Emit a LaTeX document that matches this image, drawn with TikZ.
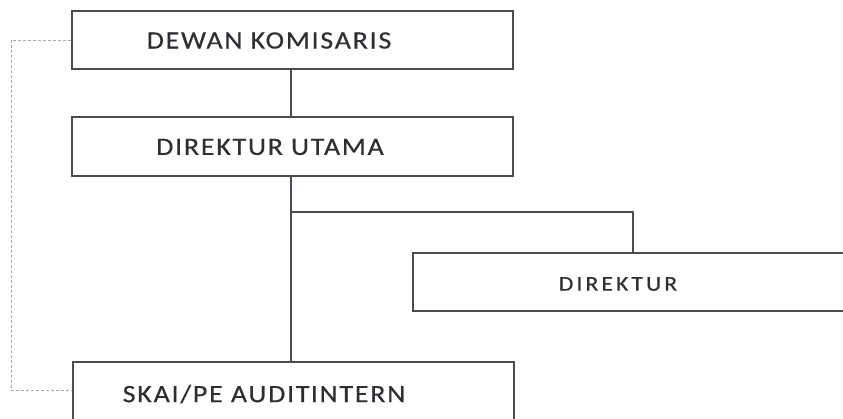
\documentclass[tikz,border=0pt]{standalone}
\usepackage{fontspec}
\setmainfont{Carlito}
\definecolor{linec}{HTML}{4A4B55}
\definecolor{textc}{HTML}{2E2E34}
\definecolor{dotc}{HTML}{A8A8B0}
\begin{document}
\begin{tikzpicture}[x=1pt,y=-1pt,
  box/.style={draw=linec, line width=1.4pt, inner sep=0pt, fill=white},
  conn/.style={draw=linec, line width=1.4pt},
  dotline/.style={draw=dotc, line width=0.7pt, densely dashed},
  lbl/.style={text=textc, inner sep=0pt, font=\fontsize{25}{28}\selectfont\addfontfeature{FakeStretch=1.12,LetterSpace=7,FakeBold=0.4}},
  lblsmall/.style={text=textc, inner sep=0pt, font=\fontsize{21}{24}\selectfont\addfontfeature{FakeStretch=1.12,LetterSpace=15,FakeBold=0.4}}]
\useasboundingbox (0,0) rectangle (843,418);
\clip (0,0) rectangle (843,418);
\fill[white] (0,0) rectangle (843,418);
% coordinates
\coordinate (spine) at (291,0);
\coordinate (br) at (291,212);
\coordinate (brR) at (633,212);
\coordinate (dl1) at (11,40);
\coordinate (dl2) at (11,390);
% boxes
\node[box, minimum width=441pt, minimum height=58pt] (dk) at (292.5,40) {};
\node[box, minimum width=441pt, minimum height=59pt] (du) at (292.5,146.5) {};
\node[box, minimum width=487pt, minimum height=58pt] (dir) at (656.5,282) {};
\node[box, minimum width=441pt, minimum height=78pt] (skai) at (293.5,401) {};
% connectors
\draw[conn] (dk.south -| spine) -- (du.north -| spine);
\draw[conn] (du.south -| spine) -- (skai.north -| spine);
\draw[conn] (br) -- (brR) -- (brR |- dir.north);
\draw[dotline] (dk.west) -- (dk.west -| dl1) -- (dl2) -- (dl2 -| skai.west);
% labels
\node[lbl] (dkT) at (269,40.5) {DEWAN KOMISARIS};
\node[lbl] (duT) at (270,147) {DIREKTUR UTAMA};
\node[lblsmall] (dirT) at (618,284) {DIREKTUR};
\node[lbl] (skaiT) at (264,394) {SKAI/PE AUDIT\kern0.05em INTERN};
\end{tikzpicture}
\end{document}
